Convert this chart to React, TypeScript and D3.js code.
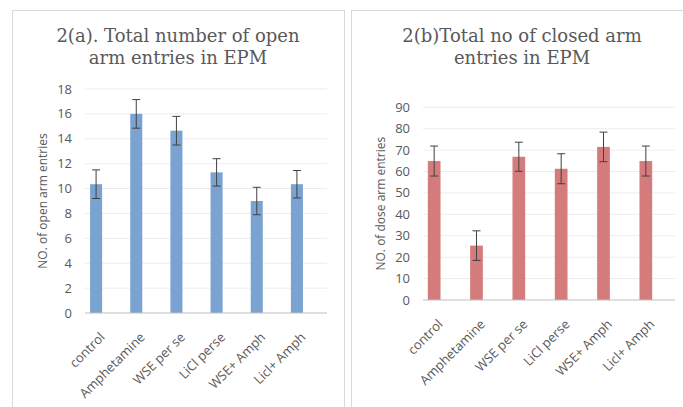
import React from "react";
import * as d3 from "d3";

const categories = ["control", "Amphetamine", "WSE per se", "LiCl perse", "WSE+ Amph", "Licl+ Amph"];
const openEntries = [10.35, 16.0, 14.65, 11.3, 9.0, 10.35];
const openErrors = [1.15, 1.15, 1.15, 1.1, 1.1, 1.1];
const closedEntries = [64.9, 25.4, 66.9, 61.3, 71.5, 64.9];
const closedErrors = [7.0, 6.9, 6.8, 7.0, 6.9, 7.0];
const openTicks = [0, 2, 4, 6, 8, 10, 12, 14, 16, 18];
const closedTicks = [0, 10, 20, 30, 40, 50, 60, 70, 80, 90];

const W = 683;
const H = 407;
const textGray = "#595959";
const sans = "'Open Sans', 'Noto Sans', sans-serif";
const serif = "'DejaVu Serif', 'Liberation Serif', serif";

type PanelProps = {
  frame: [number, number, number, number];
  titleLines: string[];
  titleX: number;
  yLabel: string;
  yLabelX: number;
  values: number[];
  errors: number[];
  ticks: number[];
  yMax: number;
  bandRange: [number, number];
  gridRange: [number, number];
  yRange: [number, number];
  color: string;
};

function Panel(p: PanelProps) {
  const x = d3.scaleBand<string>().domain(categories).range(p.bandRange).paddingInner(0.7).paddingOuter(0.35);
  const y = d3.scaleLinear().domain([0, p.yMax]).range(p.yRange);
  const [fx, fy, fw, fh] = p.frame;
  const bw = x.bandwidth();
  const cap = 4;
  const yMid = (p.yRange[0] + p.yRange[1]) / 2;
  return (
    <g>
      <rect x={fx} y={fy} width={fw} height={fh} fill="#fff" stroke="#d9d9d9" strokeWidth={1} />
      {p.titleLines.map((t, i) => (
        <text key={t} x={p.titleX} y={42 + i * 21.5} textAnchor="middle" fontFamily={serif} fontSize={18} fill={textGray}>
          {t}
        </text>
      ))}
      {p.ticks.map((t) => (
        <g key={t}>
          {t > 0 && (
            <line x1={p.gridRange[0]} x2={p.gridRange[1]} y1={y(t)} y2={y(t)} stroke="#ececec" strokeWidth={1} />
          )}
          <text x={p.gridRange[0] - 13} y={y(t)} dy="0.35em" textAnchor="end" fontFamily={sans} fontSize={13} fill={textGray}>
            {t}
          </text>
        </g>
      ))}
      <text
        transform={`translate(${p.yLabelX},${yMid}) rotate(-90)`}
        textAnchor="middle"
        fontFamily={sans}
        fontSize={12}
        fill={textGray}
      >
        {p.yLabel}
      </text>
      {categories.map((c, i) => {
        const x0 = x(c) as number;
        const cx = x0 + bw / 2;
        const v = p.values[i];
        const e = p.errors[i];
        return (
          <g key={c}>
            <rect x={x0} y={y(v)} width={bw} height={y(0) - y(v)} fill={p.color} />
            <line x1={cx} x2={cx} y1={y(v + e)} y2={y(v - e)} stroke="#404040" strokeWidth={1} />
            <line x1={cx - cap} x2={cx + cap} y1={y(v + e)} y2={y(v + e)} stroke="#404040" strokeWidth={1} />
            <line x1={cx - cap} x2={cx + cap} y1={y(v - e)} y2={y(v - e)} stroke="#404040" strokeWidth={1} />
            <text
              transform={`translate(${cx + 9.5},${y(0) + 25}) rotate(-45)`}
              textAnchor="end"
              fontFamily={sans}
              fontSize={13}
              fill={textGray}
            >
              {c}
            </text>
          </g>
        );
      })}
      <line x1={p.gridRange[0]} x2={p.gridRange[1]} y1={y(0)} y2={y(0)} stroke="#bfbfbf" strokeWidth={1.2} />
    </g>
  );
}

export default function App() {
  return (
    <svg width={W} height={H} style={{ position: "absolute", left: 0, top: 0, display: "block" }}>
      <rect width={W} height={H} fill="#fff" />
      <Panel
        frame={[12.5, 10.5, 332, 420]}
        titleLines={["2(a). Total number of open", "arm entries in EPM"]}
        titleX={178}
        yLabel="NO. of open arm entries"
        yLabelX={47}
        values={openEntries}
        errors={openErrors}
        ticks={openTicks}
        yMax={18}
        bandRange={[76, 317]}
        gridRange={[85, 327]}
        yRange={[313, 89]}
        color="#7aa3d1"
      />
      <Panel
        frame={[351.5, 10.5, 350, 420]}
        titleLines={["2(b)Total no of closed arm", "entries in EPM"]}
        titleX={522}
        yLabel="NO. of dose arm entries"
        yLabelX={385}
        values={closedEntries}
        errors={closedErrors}
        ticks={closedTicks}
        yMax={90}
        bandRange={[413, 667]}
        gridRange={[423, 675]}
        yRange={[300, 107.3]}
        color="#d47c7b"
      />
    </svg>
  );
}
